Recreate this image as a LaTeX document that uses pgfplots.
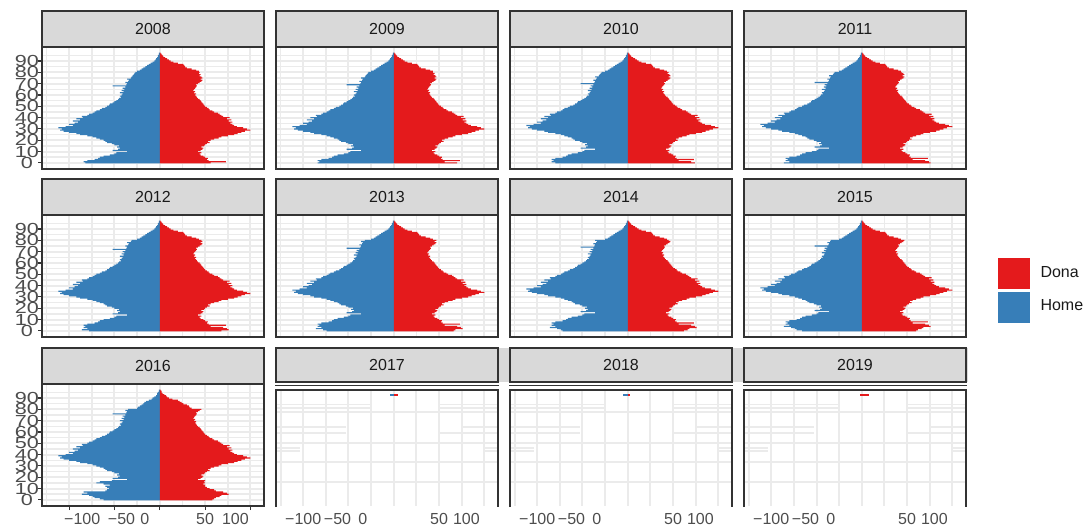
\documentclass[border=0pt]{standalone}
\usepackage{fontspec}
\setmainfont{Liberation Sans}
\usepackage{graphicx}
\usepackage{pgfplots}
\pgfplotsset{compat=1.18}
\usepackage{pgfplotstable}
\definecolor{dona}{HTML}{E41A1C}
\definecolor{home}{HTML}{377EB8}
\definecolor{gridc}{HTML}{EBEBEB}
\definecolor{frame}{HTML}{333333}
\definecolor{stripc}{HTML}{D9D9D9}
\definecolor{axtext}{HTML}{4D4D4D}
\definecolor{striptext}{HTML}{1A1A1A}

\pgfplotstableread{
a m f
0 -82 56
1 -84 73
2 -80 54
3 -72 52
4 -68 53
5 -66 50
6 -62 48
7 -55 45
8 -50 44
9 -48 46
10 -36 42
11 -52 45
12 -46 47
13 -44 48
14 -47 46
15 -45 49
16 -50 50
17 -53 52
18 -58 55
19 -60 53
20 -62 56
21 -66 60
22 -70 65
23 -74 68
24 -80 75
25 -88 82
26 -92 86
27 -100 90
28 -106 94
29 -110 100
30 -108 96
31 -112 92
32 -104 85
33 -96 82
34 -100 80
35 -94 78
36 -90 80
37 -96 76
38 -88 79
39 -92 74
40 -85 77
41 -86 70
42 -80 68
43 -78 66
44 -74 64
45 -72 60
46 -70 58
47 -66 55
48 -64 54
49 -60 52
50 -58 50
51 -56 49
52 -55 48
53 -52 47
54 -50 46
55 -48 45
56 -46 44
57 -45 42
58 -43 41
59 -44 40
60 -42 39
61 -41 40
62 -44 38
63 -40 39
64 -42 37
65 -39 38
66 -41 39
67 -38 40
68 -52 41
69 -37 40
70 -36 42
71 -38 44
72 -35 46
73 -34 47
74 -36 45
75 -32 47
76 -31 46
77 -30 44
78 -29 45
79 -28 43
80 -27 44
}\tA

\pgfplotstableread{
a m f
0 -84 70
1 -82 56
2 -84 73
3 -80 54
4 -72 52
5 -68 53
6 -66 50
7 -62 48
8 -55 45
9 -50 44
10 -48 46
11 -36 42
12 -52 45
13 -46 47
14 -44 48
15 -47 46
16 -45 49
17 -50 50
18 -53 52
19 -58 55
20 -60 53
21 -62 56
22 -66 60
23 -70 65
24 -74 68
25 -80 75
26 -88 82
27 -92 86
28 -100 90
29 -106 94
30 -110 100
31 -108 96
32 -112 92
33 -104 85
34 -96 82
35 -100 80
36 -94 78
37 -90 80
38 -96 76
39 -88 79
40 -92 74
41 -85 77
42 -86 70
43 -80 68
44 -78 66
45 -74 64
46 -72 60
47 -70 58
48 -66 55
49 -64 54
50 -60 52
51 -58 50
52 -56 49
53 -55 48
54 -52 47
55 -50 46
56 -48 45
57 -46 44
58 -45 42
59 -43 41
60 -44 40
61 -42 39
62 -41 40
63 -44 38
64 -40 39
65 -42 37
66 -39 38
67 -41 39
68 -38 40
69 -52 41
70 -37 40
71 -36 42
72 -38 44
73 -35 46
74 -34 47
75 -36 45
76 -32 47
77 -31 46
78 -30 44
79 -29 45
80 -28 43
}\tB

\pgfplotstableread{
a m f
0 -80 74
1 -84 70
2 -82 56
3 -84 73
4 -80 54
5 -72 52
6 -68 53
7 -66 50
8 -62 48
9 -55 45
10 -50 44
11 -48 46
12 -36 42
13 -52 45
14 -46 47
15 -44 48
16 -47 46
17 -45 49
18 -50 50
19 -53 52
20 -58 55
21 -60 53
22 -62 56
23 -66 60
24 -70 65
25 -74 68
26 -80 75
27 -88 82
28 -92 86
29 -100 90
30 -106 94
31 -110 100
32 -108 96
33 -112 92
34 -104 85
35 -96 82
36 -100 80
37 -94 78
38 -90 80
39 -96 76
40 -88 79
41 -92 74
42 -85 77
43 -86 70
44 -80 68
45 -78 66
46 -74 64
47 -72 60
48 -70 58
49 -66 55
50 -64 54
51 -60 52
52 -58 50
53 -56 49
54 -55 48
55 -52 47
56 -50 46
57 -48 45
58 -46 44
59 -45 42
60 -43 41
61 -44 40
62 -42 39
63 -41 40
64 -44 38
65 -40 39
66 -42 37
67 -39 38
68 -41 39
69 -38 40
70 -52 41
71 -37 40
72 -36 42
73 -38 44
74 -35 46
75 -34 47
76 -36 45
77 -32 47
78 -31 46
79 -30 44
80 -29 45
}\tC

\pgfplotstableread{
a m f
0 -86 76
1 -80 74
2 -84 70
3 -82 56
4 -84 73
5 -80 54
6 -72 52
7 -68 53
8 -66 50
9 -62 48
10 -55 45
11 -50 44
12 -48 46
13 -36 42
14 -52 45
15 -46 47
16 -44 48
17 -47 46
18 -45 49
19 -50 50
20 -53 52
21 -58 55
22 -60 53
23 -62 56
24 -66 60
25 -70 65
26 -74 68
27 -80 75
28 -88 82
29 -92 86
30 -100 90
31 -106 94
32 -110 100
33 -108 96
34 -112 92
35 -104 85
36 -96 82
37 -100 80
38 -94 78
39 -90 80
40 -96 76
41 -88 79
42 -92 74
43 -85 77
44 -86 70
45 -80 68
46 -78 66
47 -74 64
48 -72 60
49 -70 58
50 -66 55
51 -64 54
52 -60 52
53 -58 50
54 -56 49
55 -55 48
56 -52 47
57 -50 46
58 -48 45
59 -46 44
60 -45 42
61 -43 41
62 -44 40
63 -42 39
64 -41 40
65 -44 38
66 -40 39
67 -42 37
68 -39 38
69 -41 39
70 -38 40
71 -52 41
72 -37 40
73 -36 42
74 -38 44
75 -35 46
76 -34 47
77 -36 45
78 -32 47
79 -31 46
80 -30 44
}\tD

\pgfplotstableread{
a m f
0 -78 68
1 -86 76
2 -80 74
3 -84 70
4 -82 56
5 -84 73
6 -80 54
7 -72 52
8 -68 53
9 -66 50
10 -62 48
11 -55 45
12 -50 44
13 -48 46
14 -36 42
15 -52 45
16 -46 47
17 -44 48
18 -47 46
19 -45 49
20 -50 50
21 -53 52
22 -58 55
23 -60 53
24 -62 56
25 -66 60
26 -70 65
27 -74 68
28 -80 75
29 -88 82
30 -92 86
31 -100 90
32 -106 94
33 -110 100
34 -108 96
35 -112 92
36 -104 85
37 -96 82
38 -100 80
39 -94 78
40 -90 80
41 -96 76
42 -88 79
43 -92 74
44 -85 77
45 -86 70
46 -80 68
47 -78 66
48 -74 64
49 -72 60
50 -70 58
51 -66 55
52 -64 54
53 -60 52
54 -58 50
55 -56 49
56 -55 48
57 -52 47
58 -50 46
59 -48 45
60 -46 44
61 -45 42
62 -43 41
63 -44 40
64 -42 39
65 -41 40
66 -44 38
67 -40 39
68 -42 37
69 -39 38
70 -41 39
71 -38 40
72 -52 41
73 -37 40
74 -36 42
75 -38 44
76 -35 46
77 -34 47
78 -36 45
79 -32 47
80 -31 46
}\tE

\pgfplotstableread{
a m f
0 -74 66
1 -78 68
2 -86 76
3 -80 74
4 -84 70
5 -82 56
6 -84 73
7 -80 54
8 -72 52
9 -68 53
10 -66 50
11 -62 48
12 -55 45
13 -50 44
14 -48 46
15 -36 42
16 -52 45
17 -46 47
18 -44 48
19 -47 46
20 -45 49
21 -50 50
22 -53 52
23 -58 55
24 -60 53
25 -62 56
26 -66 60
27 -70 65
28 -74 68
29 -80 75
30 -88 82
31 -92 86
32 -100 90
33 -106 94
34 -110 100
35 -108 96
36 -112 92
37 -104 85
38 -96 82
39 -100 80
40 -94 78
41 -90 80
42 -96 76
43 -88 79
44 -92 74
45 -85 77
46 -86 70
47 -80 68
48 -78 66
49 -74 64
50 -72 60
51 -70 58
52 -66 55
53 -64 54
54 -60 52
55 -58 50
56 -56 49
57 -55 48
58 -52 47
59 -50 46
60 -48 45
61 -46 44
62 -45 42
63 -43 41
64 -44 40
65 -42 39
66 -41 40
67 -44 38
68 -40 39
69 -42 37
70 -39 38
71 -41 39
72 -38 40
73 -52 41
74 -37 40
75 -36 42
76 -38 44
77 -35 46
78 -34 47
79 -36 45
80 -32 47
}\tF

\pgfplotstableread{
a m f
0 -72 62
1 -74 66
2 -78 68
3 -86 76
4 -80 74
5 -84 70
6 -82 56
7 -84 73
8 -80 54
9 -72 52
10 -68 53
11 -66 50
12 -62 48
13 -55 45
14 -50 44
15 -48 46
16 -36 42
17 -52 45
18 -46 47
19 -44 48
20 -47 46
21 -45 49
22 -50 50
23 -53 52
24 -58 55
25 -60 53
26 -62 56
27 -66 60
28 -70 65
29 -74 68
30 -80 75
31 -88 82
32 -92 86
33 -100 90
34 -106 94
35 -110 100
36 -108 96
37 -112 92
38 -104 85
39 -96 82
40 -100 80
41 -94 78
42 -90 80
43 -96 76
44 -88 79
45 -92 74
46 -85 77
47 -86 70
48 -80 68
49 -78 66
50 -74 64
51 -72 60
52 -70 58
53 -66 55
54 -64 54
55 -60 52
56 -58 50
57 -56 49
58 -55 48
59 -52 47
60 -50 46
61 -48 45
62 -46 44
63 -45 42
64 -43 41
65 -44 40
66 -42 39
67 -41 40
68 -44 38
69 -40 39
70 -42 37
71 -39 38
72 -41 39
73 -38 40
74 -52 41
75 -37 40
76 -36 42
77 -38 44
78 -35 46
79 -34 47
80 -36 45
}\tG

\pgfplotstableread{
a m f
0 -66 60
1 -72 62
2 -74 66
3 -78 68
4 -86 76
5 -80 74
6 -84 70
7 -82 56
8 -84 73
9 -80 54
10 -72 52
11 -68 53
12 -66 50
13 -62 48
14 -55 45
15 -50 44
16 -48 46
17 -36 42
18 -52 45
19 -46 47
20 -44 48
21 -47 46
22 -45 49
23 -50 50
24 -53 52
25 -58 55
26 -60 53
27 -62 56
28 -66 60
29 -70 65
30 -74 68
31 -80 75
32 -88 82
33 -92 86
34 -100 90
35 -106 94
36 -110 100
37 -108 96
38 -112 92
39 -104 85
40 -96 82
41 -100 80
42 -94 78
43 -90 80
44 -96 76
45 -88 79
46 -92 74
47 -85 77
48 -86 70
49 -80 68
50 -78 66
51 -74 64
52 -72 60
53 -70 58
54 -66 55
55 -64 54
56 -60 52
57 -58 50
58 -56 49
59 -55 48
60 -52 47
61 -50 46
62 -48 45
63 -46 44
64 -45 42
65 -43 41
66 -44 40
67 -42 39
68 -41 40
69 -44 38
70 -40 39
71 -42 37
72 -39 38
73 -41 39
74 -38 40
75 -52 41
76 -37 40
77 -36 42
78 -38 44
79 -35 46
80 -34 47
}\tH

\pgfplotstableread{
a m f
0 -62 58
1 -66 60
2 -72 62
3 -74 66
4 -78 68
5 -86 76
6 -80 74
7 -84 70
8 -60 62
9 -58 60
10 -56 55
11 -58 52
12 -60 50
13 -55 50
14 -62 48
15 -70 50
16 -66 49
17 -53 50
18 -36 42
19 -52 45
20 -46 47
21 -44 48
22 -47 46
23 -45 49
24 -50 50
25 -53 52
26 -58 55
27 -60 53
28 -62 56
29 -66 60
30 -70 65
31 -74 68
32 -80 75
33 -88 82
34 -92 86
35 -100 90
36 -106 94
37 -110 100
38 -108 96
39 -112 92
40 -104 85
41 -96 82
42 -100 80
43 -94 78
44 -90 80
45 -96 76
46 -88 79
47 -92 74
48 -85 77
49 -86 70
50 -80 68
51 -78 66
52 -74 64
53 -72 60
54 -70 58
55 -66 55
56 -64 54
57 -60 52
58 -58 50
59 -56 49
60 -55 48
61 -52 47
62 -50 46
63 -48 45
64 -46 44
65 -45 42
66 -43 41
67 -44 40
68 -42 39
69 -41 40
70 -44 38
71 -40 39
72 -42 37
73 -39 38
74 -41 39
75 -38 40
76 -52 41
77 -37 40
78 -36 42
79 -38 44
80 -35 46
}\tI

\pgfplotstableread{
a m f
81 -25 43
82 -22 40
83 -20 35
84 -18 30
85 -16 28
86 -14 27
87 -12 26
88 -10 20
89 -8 15
90 -6 12
91 -5 10
92 -4 8
93 -3 6
94 -2 4
95 -2 3
96 -1 2
97 -1 1
}\tTail

\pgfplotstableread{
a m f
81 -25 35
82 -24 33
83 -22 32
84 -20 30
85 -18 26
86 -17 24
87 -15 22
88 -12 20
89 -9 14
90 -8 10
91 -6 8
92 -4 7
93 -3 5
94 -3 3
95 -2 2
96 -1 2
97 -1 1
}\tTailB

\pgfplotsset{
  tlfont/.style={font=\fontsize{16}{16}\selectfont, text=axtext},
  panel/.style={
    scale only axis, width=222pt, height=122pt, anchor=south west,
    xmin=-130, xmax=115, ymin=-5.4, ymax=102.4,
    xtick={-100,-50,0,50,100}, minor xtick={-125,-75,-25,25,75},
    ytick={0,10,20,30,40,50,60,70,80,90},
    minor ytick={5,15,25,35,45,55,65,75,85,95},
    xmajorgrids, xminorgrids, ymajorgrids, yminorgrids,
    major grid style={draw=gridc, line width=2pt},
    minor grid style={draw=gridc, line width=1.5pt},
    axis line style={draw=frame, line width=1.7pt},
    tick pos=left,
    tick align=outside, major tick length=4pt, minor tick length=0pt,
    xtick style={draw=none}, ytick style={draw=none},
    xticklabels={}, yticklabels={},
    tick label style={tlfont},
  },
  ylab/.style={
    ytick style={draw=frame, line width=1.1pt},
    yticklabels={\scalebox{1.35}[1]{0},\scalebox{1.35}[1]{10},\scalebox{1.35}[1]{20},\scalebox{1.35}[1]{30},\scalebox{1.35}[1]{40},\scalebox{1.35}[1]{50},\scalebox{1.35}[1]{60},\scalebox{1.35}[1]{70},\scalebox{1.35}[1]{80},\scalebox{1.35}[1]{90}},
    yticklabel style={anchor=center, xshift=-11pt},
  },
  xlabA/.style={
    xtick style={draw=frame, line width=1.1pt},
    xticklabels={{\hspace*{26pt}−100},{\hspace*{14pt}−50},{0\hspace*{30pt}},{50},{100\hspace*{30pt}}},
  },
  xlabB/.style={
    xticklabels={{−100},{−50\hspace*{22pt}},{0\hspace*{62pt}},{50},{100\hspace*{36pt}}},
  },
  glitch/.style={
    scale only axis, width=222pt, height=116.3pt, anchor=south west,
    xmin=-130, xmax=115, ymin=-5.4, ymax=97.1,
    xtick={-100,-50,0,50,100}, minor xtick={-125,-75,-25,25,75},
    ytick={16,33.6,50.5,77.2},
    xmajorgrids, xminorgrids, ymajorgrids,
    major grid style={draw=gridc, line width=2pt},
    minor grid style={draw=gridc, line width=2pt},
    axis line style={draw=none},
    tick pos=left,
    tick align=outside, major tick length=4pt, minor tick length=0pt,
    xtick style={draw=none}, ytick style={draw=none},
    yticklabels={}, tick label style={tlfont}, xlabB,
  },
}

\newcommand{\pyr}[5]{%
\begin{axis}[panel, at={(#1,#2)}, #4]
\addplot[xbar, bar width=1, bar shift=0pt, fill=home, draw=none] table[x=m,y=a]{#3};
\addplot[xbar, bar width=1, bar shift=0pt, fill=dona, draw=none] table[x=f,y=a]{#3};
\addplot[xbar, bar width=1, bar shift=0pt, fill=home, draw=none] table[x=m,y=a]{#5};
\addplot[xbar, bar width=1, bar shift=0pt, fill=dona, draw=none] table[x=f,y=a]{#5};
\end{axis}}

\newcommand{\partials}{%
\addplot[gridc, line width=1.8pt] coordinates {(-130,84) (-26,84)};
\addplot[gridc, line width=1.8pt] coordinates {(50,84) (115,84)};
\addplot[gridc, line width=1.8pt] coordinates {(-130,81) (-26,81)};
\addplot[gridc, line width=1.8pt] coordinates {(50,81) (115,81)};
\addplot[gridc, line width=1.8pt] coordinates {(-130,64) (-53,64)};
\addplot[gridc, line width=1.8pt] coordinates {(75,64) (115,64)};
\addplot[gridc, line width=1.8pt] coordinates {(-130,59) (-53,59)};
\addplot[gridc, line width=1.8pt] coordinates {(50,59) (115,59)};
\addplot[gridc, line width=1.8pt] coordinates {(-130,46) (-104,46)};
\addplot[gridc, line width=1.8pt] coordinates {(100,46) (115,46)};
\addplot[gridc, line width=1.8pt] coordinates {(-130,43) (-104,43)};
\addplot[gridc, line width=1.8pt] coordinates {(100,43) (115,43)};
}

\newcommand{\strip}[3]{%
\draw[fill=stripc, draw=frame, line width=1.7pt] (#1,#2) rectangle ++(222pt,36pt);
\node[font=\fontsize{16}{16}\selectfont, text=striptext] at ([shift={(111pt,18pt)}]#1,#2) {#3};}

\newcommand{\gstrip}[2]{%
\draw[fill=stripc, draw=frame, line width=1.7pt] (#1,146pt) rectangle ++(222pt,34pt);
\node[font=\fontsize{16}{16}\selectfont, text=striptext] at ([shift={(111pt,17pt)}]#1,146pt) {#2};
\draw[draw=frame, line width=1.7pt] ([shift={(-1pt,0pt)}]#1,142.5pt) -- ++(224pt,0pt);
\draw[draw=frame, line width=1.7pt] (#1,21pt) -- (#1,138.3pt) -- ++(222pt,0pt) -- ++(0pt,-117.3pt);}

\begin{document}
\begin{tikzpicture}
\path[use as bounding box] (0pt,0pt) rectangle (1092pt,528pt);

\pyr{42pt}{359pt}{\tA}{ylab}{\tTail}
\pyr{276pt}{359pt}{\tB}{}{\tTail}
\pyr{510pt}{359pt}{\tC}{}{\tTail}
\pyr{744pt}{359pt}{\tD}{}{\tTail}
\pyr{42pt}{191pt}{\tE}{ylab}{\tTail}
\pyr{276pt}{191pt}{\tF}{}{\tTail}
\pyr{510pt}{191pt}{\tG}{}{\tTail}
\pyr{744pt}{191pt}{\tH}{}{\tTail}
\pyr{42pt}{22pt}{\tI}{ylab,xlabA}{\tTailB}

\begin{axis}[glitch, at={(276pt,22pt)}]
\partials
\addplot[xbar, bar width=1.2, bar shift=0pt, fill=home, draw=none] coordinates {(-4,92.5)};
\addplot[xbar, bar width=1.2, bar shift=0pt, fill=dona, draw=none] coordinates {(5,92.5)};
\end{axis}
\begin{axis}[glitch, at={(510pt,22pt)}]
\partials
\addplot[xbar, bar width=1.2, bar shift=0pt, fill=home, draw=none] coordinates {(-5,92.5)};
\addplot[xbar, bar width=1.2, bar shift=0pt, fill=dona, draw=none] coordinates {(2.5,92.5)};
\end{axis}
\begin{axis}[glitch, at={(744pt,22pt)}]
\partials
\addplot[xbar, bar width=1.2, bar shift=0pt, fill=dona, draw=none] coordinates {(-2.5,92.5)};
\addplot[xbar, bar width=1.2, bar shift=0pt, fill=dona, draw=none] coordinates {(7.5,92.5)};
\end{axis}

\strip{42pt}{481pt}{2008}
\strip{276pt}{481pt}{2009}
\strip{510pt}{481pt}{2010}
\strip{744pt}{481pt}{2011}
\strip{42pt}{313pt}{2012}
\strip{276pt}{313pt}{2013}
\strip{510pt}{313pt}{2014}
\strip{744pt}{313pt}{2015}
\strip{42pt}{144pt}{2016}
\fill[stripc] (276pt,146pt) rectangle (968pt,180pt);
\gstrip{276pt}{2017}
\gstrip{510pt}{2018}
\gstrip{744pt}{2019}

\fill[dona] (998pt,239pt) rectangle (1030pt,270pt);
\fill[home] (998pt,205pt) rectangle (1030pt,236pt);
\node[anchor=west, font=\fontsize{16}{16}\selectfont, text=black!90] at (1037pt,256pt) {Dona};
\node[anchor=west, font=\fontsize{16}{16}\selectfont, text=black!90] at (1037pt,223pt) {Home};
\end{tikzpicture}
\end{document}
